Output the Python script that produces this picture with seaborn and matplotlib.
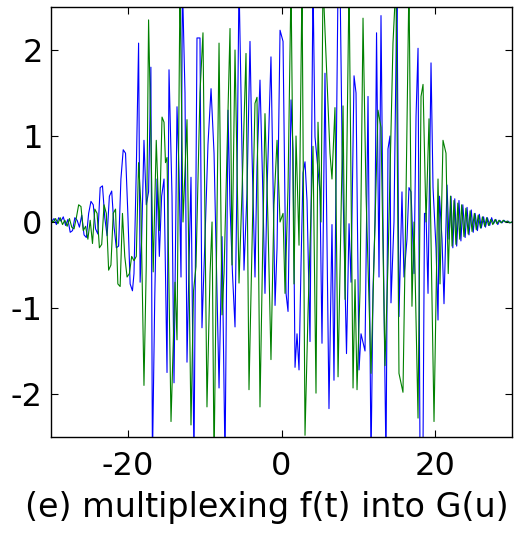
import matplotlib
matplotlib.use("Agg")
import matplotlib.pyplot as plt
import seaborn as sns
import pandas as pd

# ---- data ----
blue_x = [-30.0, -29.6, -29.3, -29.0, -28.7, -28.4, -28.1, -27.8, -27.5, -27.2,
          -26.9, -26.6, -26.3, -26.0, -25.7, -25.4, -25.1, -24.8, -24.5, -24.2,
          -23.9, -23.6, -23.3, -23.0, -22.7, -22.4, -22.1, -21.8, -21.5, -21.2,
          -20.9, -20.6, -20.3, -20.0, -19.7, -19.4, -19.2, -18.9, -18.6, -18.4,
          -18.2, -17.9, -17.6, -17.3, -17.0, -16.8, -16.5, -16.2, -15.9, -15.6,
          -15.29, -14.9, -14.64, -14.25, -13.99, -13.6, -13.34, -13.08, -12.9, -12.56,
          -12.3, -12.04, -11.78, -11.39, -11.0, -10.61, -10.35, -9.96, -9.57, -9.17,
          -8.78, -8.52, -8.13, -7.74, -7.35, -6.96, -6.7, -6.38, -6.05, -5.79,
          -5.53, -5.27, -4.88, -4.49, -4.1, -3.84, -3.45, -3.19, -2.8, -2.47,
          -2.15, -1.89, -1.37, -0.84, -0.58, -0.19, 0.2, 0.59, 0.85, 1.24,
          1.5, 1.76, 2.02, 2.28, 2.54, 2.8, 3.06, 3.32, 3.71, 4.1,
          4.36, 4.75, 5.01, 5.27, 5.66, 6.18, 6.57, 6.83, 7.36, 7.62,
          7.88, 8.27, 8.46, 8.79, 9.05, 9.44, 9.7, 10.09, 10.35, 10.87,
          11.26, 11.65, 11.91, 12.17, 12.37, 12.69, 12.95, 13.21, 13.6, 13.86,
          14.12, 14.25, 14.64, 15.03, 15.29, 15.68, 15.94, 16.33, 16.59, 16.86,
          17.25, 17.51, 17.77, 18.03, 18.42, 18.61, 18.81, 19.07, 19.46, 19.72,
          20.11, 20.37, 20.56, 20.89, 21.15, 21.54, 21.8, 22.06, 22.3, 22.55,
          22.8, 23.1, 23.35, 23.6, 23.9, 24.15, 24.4, 24.7, 24.95, 25.2,
          25.5, 25.75, 26.0, 26.3, 26.55, 26.8, 27.1, 27.35, 27.6, 27.9,
          28.15, 28.4, 28.7, 28.95, 29.2, 29.5, 29.75, 30.0]
blue_y = [0.00, 0.04, -0.03, 0.05, 0.01, 0.06, -0.04, 0.03, -0.12, -0.10,
          0.05, 0.02, -0.06, 0.08, -0.15, -0.18, 0.10, 0.24, 0.20, -0.08,
          -0.14, 0.40, 0.42, 0.05, -0.16, 0.30, 0.36, -0.05, -0.30, -0.28,
          0.50, 0.84, 0.80, 0.10, -0.72, -0.80, -0.60, 0.60, 2.08, -0.70,
          -0.20, 0.95, 0.20, 0.35, 1.80, -2.80, -0.90, 0.50, -0.40, 0.30,
          0.50, -1.75, 1.77, 0.30, -1.87, 1.34, 0.60, -0.64, 2.80, 1.50,
          -1.63, -0.50, 0.52, -2.80, 2.14, 2.14, -1.23, -0.20, 0.90, 1.55,
          0.80, -0.30, -1.93, -0.17, -2.80, 1.30, 0.20, -0.60, -1.22, 0.50,
          2.80, 1.50, -0.56, 0.34, 2.10, 0.80, -0.64, 0.64, 1.65, 0.50,
          -0.83, 0.35, 1.92, -0.97, -0.30, 2.23, 2.10, -0.83, -1.04, 1.42,
          0.84, -1.69, -1.30, -1.72, -0.50, 0.57, 0.70, 0.25, -1.39, 2.80,
          0.99, 0.60, 0.35, -1.41, 1.73, -2.17, -0.03, -1.84, 2.80, 2.80,
          0.91, -0.70, -1.53, -0.02, -0.70, 1.70, 1.50, -1.72, -1.30, -1.50,
          1.46, -2.80, -0.80, 0.00, 2.20, -0.64, 2.40, 0.00, -2.80, 0.85,
          1.00, -0.94, 0.00, 2.80, -1.10, 0.35, -0.64, -0.20, 0.40, 0.35,
          -0.60, 1.23, 2.02, -2.80, -2.60, 0.10, 0.10, -0.83, 1.85, 0.40,
          -0.30, -1.14, 0.30, -0.20, -0.95, 0.43, -0.20, 0.30, -0.30, 0.27,
          -0.28, 0.25, -0.22, 0.20, -0.18, 0.17, -0.15, 0.14, -0.12, 0.10,
          -0.10, 0.09, -0.07, 0.06, -0.06, 0.05, -0.04, 0.05, -0.02, 0.03,
          -0.03, 0.02, -0.01, 0.02, 0.00, 0.01, -0.01, 0.00]

green_x = [-30.0, -29.7, -29.4, -29.1, -28.8, -28.5, -28.2, -27.9, -27.6, -27.3,
           -27.0, -26.7, -26.4, -26.1, -25.8, -25.5, -25.2, -24.9, -24.6, -24.3,
           -24.0, -23.7, -23.4, -23.1, -22.8, -22.5, -22.2, -21.9, -21.6, -21.3,
           -21.0, -20.7, -20.4, -20.1, -19.8, -19.5, -19.2, -18.9, -18.6, -18.3,
           -17.9, -17.6, -17.3, -17.0, -16.7, -16.3, -15.9, -15.55,
           -15.29, -15.1, -14.9, -14.38, -13.86, -13.6, -13.21, -12.82, -12.3, -11.78,
           -11.45, -11.13, -10.61, -10.22, -9.7, -9.3, -9.04, -8.78, -8.13, -7.74,
           -7.48, -6.7, -6.44, -6.05, -5.53, -5.14, -4.62, -4.23, -3.84, -3.45,
           -3.19, -2.8, -2.15, -1.76, -1.37, -0.98, -0.58, -0.19, 0.2, 0.46,
           0.85, 1.24, 1.63, 1.89, 2.28, 2.67, 3.06, 3.45, 4.1, 4.49,
           4.75, 5.14, 5.4, 5.92, 6.31, 6.57, 6.96, 7.36, 8.01, 8.27,
           8.79, 9.31, 9.57, 9.83, 10.22, 10.61, 11.0, 11.65, 12.17, 12.56,
           12.95, 13.47, 13.86, 14.51, 14.9, 15.29, 15.81, 16.2, 16.59, 16.98,
           17.25, 17.77, 18.16, 18.42, 18.81, 19.2, 19.85, 20.37, 20.63, 21.02,
           21.41, 21.7, 22.0, 22.2, 22.45, 22.7, 22.95, 23.2, 23.45, 23.75,
           24.0, 24.3, 24.55, 24.8, 25.1, 25.35, 25.6, 25.9, 26.15, 26.45,
           26.7, 26.95, 27.25, 27.5, 27.8, 28.05, 28.3, 28.6, 28.85, 29.1,
           29.4, 29.65, 30.0]
green_y = [0.02, 0.00, 0.04, -0.02, 0.05, -0.03, 0.02, -0.05, 0.04, -0.06,
           -0.08, 0.05, 0.20, 0.18, -0.10, -0.05, -0.20, 0.02, -0.25, 0.15,
           0.10, -0.30, -0.26, 0.20, 0.10, -0.56, -0.50, 0.10, 0.15, -0.72,
           -0.75, 0.10, -0.40, -0.64, -0.60, -0.40, -0.45, -0.40, 0.69, 0.20,
           -1.90, -0.50, 2.35, 1.00, -0.58, 0.95, -0.10, 1.22,
           1.16, 0.69, 0.75, -2.32, -0.70, -1.37, 2.80, 0.00, 1.19, -2.36,
           -0.80, -0.52, 1.50, 2.20, -2.15, -0.60, 0.00, -2.80, 2.08, -1.08,
           -0.60, 2.25, -0.50, 2.00, -0.71, 0.35, 1.96, -1.95, -0.30, 1.38,
           1.45, -2.15, 1.26, 0.00, -1.60, 0.20, 0.95, 0.00, 0.10, -0.83,
           0.40, 2.80, -0.72, 1.00, -0.27, 2.80, -2.48, -1.06, 0.88, -1.99,
           1.16, 0.00, 2.80, 1.65, 0.80, 0.50, 1.33, -1.80, 1.35, -0.90,
           2.80, -1.93, -0.67, -1.95, -0.80, 2.37, 0.33, -1.76, 0.00, 1.30,
           1.10, -1.67, -0.48, 2.08, 2.80, -1.76, -1.98, 0.27, 2.80, -0.98,
           0.00, -2.28, 1.46, 1.60, 0.00, 1.20, -2.32, 0.50, -0.72, 0.95,
           0.80, -0.60, 0.30, -0.28, 0.25, -0.26, 0.22, -0.20, 0.20, -0.17,
           0.16, -0.14, 0.13, -0.11, 0.10, -0.09, 0.08, -0.07, 0.06, -0.05,
           0.05, -0.04, 0.03, -0.03, 0.03, -0.02, 0.02, -0.01, 0.02, 0.00,
           0.01, -0.01, 0.00]

x_ticks = [-20, 0, 20]
y_ticks = [-2, -1, 0, 1, 2]
x_label = "(e) multiplexing f(t) into G(u)"

# ---- plot ----
sns.set_theme(style="white")
plt.rcParams["font.family"] = ["DejaVu Sans"]

fig = plt.figure(figsize=(5.27, 5.33), dpi=100)
ax = fig.add_axes([51 / 527, 1 - 437 / 533, (512 - 51) / 527, (437 - 7) / 533])

df_b = pd.DataFrame({"x": blue_x, "y": blue_y})
df_g = pd.DataFrame({"x": green_x, "y": green_y})
sns.lineplot(data=df_b, x="x", y="y", ax=ax, color=(0, 0, 1), lw=0.8,
             sort=False, estimator=None)
sns.lineplot(data=df_g, x="x", y="y", ax=ax, color=(0, 0.5, 0), lw=0.8,
             sort=False, estimator=None)

ax.set_xlim(-30, 30)
ax.set_ylim(-2.5, 2.5)
ax.set_xticks(x_ticks)
ax.set_yticks(y_ticks)
ax.set_xticklabels([str(v) for v in x_ticks])
ax.set_yticklabels([str(v) for v in y_ticks])
ax.set_xlabel(x_label, fontsize=24, color="black")
ax.xaxis.set_label_coords(0.4675, -0.125, transform=ax.transAxes)
ax.xaxis.label.set_va("top")
ax.set_ylabel("")
ax.tick_params(axis="both", direction="in", length=5, width=0.8,
               labelsize=23, colors="black", top=True, right=True,
               bottom=True, left=True)
ax.tick_params(axis="x", pad=10)
ax.tick_params(axis="y", pad=6)
for s in ax.spines.values():
    s.set_visible(True)
    s.set_color("black")
    s.set_linewidth(1.0)
ax.set_facecolor("white")
fig.patch.set_facecolor("white")

fig.savefig("out.png", dpi=100, facecolor="white")
